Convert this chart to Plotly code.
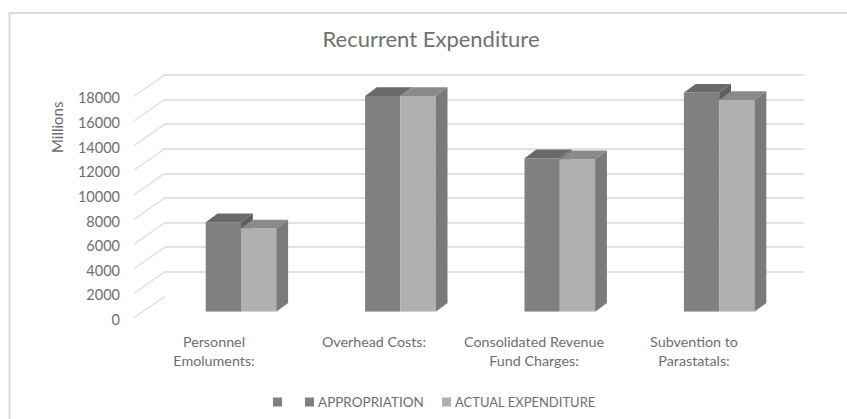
import plotly.graph_objects as go

categories = ["Personnel<br>Emoluments:", "Overhead Costs:", "Consolidated Revenue<br>Fund Charges:", "Subvention to<br>Parastatals:"]
appropriation = [7260, 17520, 12460, 17790]
actual = [6770, 17520, 12380, 17200]
y_ticks = [0, 2000, 4000, 6000, 8000, 10000, 12000, 14000, 16000, 18000]
series_names = ["APPROPRIATION", "ACTUAL EXPENDITURE"]

W, H = 847, 419
FONT = "Lato"
TXT = "#6e6e6e"
GRID = "#e2e2e2"
PX_PER_UNIT = 24.63 / 2000


def px(x):
    return x / W


def py(y):
    return 1 - y / H


def xdom(x0, x1):
    return [px(x0), px(x1)]


def ydom(bottom_px, top_value):
    return [py(bottom_px), py(bottom_px - top_value * PX_PER_UNIT)]


TOP = 20000
idx = list(range(len(categories)))
BAR_W = 35.3 / 159.4
DX = 11.8 / 159.4
DY = 8.7 / PX_PER_UNIT
WALL_DX = 31 / 160
WALL_DY = 21.7 / PX_PER_UNIT
LABEL_DROP = 2.0 / PX_PER_UNIT  # tick labels sit slightly below the start of each diagonal

fig = go.Figure()

# back wall: supplies the native gridlines
fig.add_trace(go.Scatter(x=idx, y=y_ticks[:4], mode="none", showlegend=False, hoverinfo="skip",
                         xaxis="x", yaxis="y"))

# floor / wall diagonals, drawn from the tick values on the front-plane axis
for t in y_ticks:
    fig.add_trace(go.Scatter(x=[-0.5, -0.5 + WALL_DX], y=[t + LABEL_DROP, t + LABEL_DROP + WALL_DY], mode="lines",
                             line=dict(color=GRID, width=1.5), showlegend=False, hoverinfo="skip",
                             xaxis="x3", yaxis="y3"))

# front faces
fig.add_trace(go.Bar(x=idx, y=appropriation, name=series_names[0], width=BAR_W, offset=-BAR_W,
                     marker=dict(color="#808080", line=dict(width=0)), showlegend=False,
                     xaxis="x2", yaxis="y2"))
fig.add_trace(go.Bar(x=idx, y=actual, name=series_names[1], width=BAR_W, offset=0,
                     marker=dict(color="#b0b0b0", line=dict(width=0)), showlegend=False,
                     xaxis="x2", yaxis="y2"))


def face(xs, ys, color):
    fig.add_trace(go.Scatter(x=xs, y=ys, mode="lines", fill="toself", fillcolor=color,
                             line=dict(width=0, color=color), showlegend=False, hoverinfo="skip",
                             xaxis="x2", yaxis="y2"))


for i, v, a in zip(idx, appropriation, actual):
    l, m, r = i - BAR_W, i, i + BAR_W
    # appropriation: the part of its side that shows above the neighbouring bar, then its top
    if v > a:
        face([m, m + DX, m + DX, m, m], [v, v + DY, a, a, v], "#5e5e5e")
    face([l, l + DX, m + DX, m, l], [v, v + DY, v + DY, v, v], "#6a6a6a")
    # actual: top, then side
    face([m, m + DX, r + DX, r, m], [a, a + DY, a + DY, a, a], "#8a8a8a")
    face([r, r + DX, r + DX, r, r], [0, DY, a + DY, a, 0], "#7a7a7a")

axis_off = dict(showgrid=False, zeroline=False, showline=False, showticklabels=False, ticks="", fixedrange=True)


def swatch(x0, color):
    return dict(type="rect", xref="paper", yref="paper", x0=px(x0), x1=px(x0 + 9), y0=py(406.5), y1=py(397.5),
                fillcolor=color, line=dict(width=0))


fig.update_layout(
    width=W, height=H, margin=dict(l=0, r=0, t=0, b=0, pad=0, autoexpand=False),
    paper_bgcolor="white", plot_bgcolor="rgba(0,0,0,0)",
    showlegend=False, barmode="overlay",
    font=dict(family=FONT, color=TXT, size=13),
    title=dict(text="Recurrent Expenditure", x=px(431), xanchor="center", y=py(39), yanchor="middle",
               font=dict(family=FONT, size=22, color="#707070")),
    xaxis=dict(domain=xdom(164, 804), range=[-0.5, 3.5], anchor="y", **axis_off),
    yaxis=dict(domain=ydom(296.7, TOP), range=[0, TOP], anchor="x", tickvals=y_ticks,
               showgrid=True, gridcolor=GRID, gridwidth=1.5, zeroline=False, showline=False,
               showticklabels=False, ticks="", fixedrange=True),
    xaxis2=dict(domain=xdom(161.3, 798.9), range=[-0.5, 3.5], anchor="y2", **axis_off),
    yaxis2=dict(domain=ydom(311.7, TOP), range=[0, TOP], anchor="x2", **axis_off),
    xaxis3=dict(domain=xdom(134, 774), range=[-0.5, 3.5], anchor="y3", tickvals=idx, ticktext=categories,
                showgrid=False, zeroline=False, showline=False, ticks="", ticklabelstandoff=12,
                tickfont=dict(family=FONT, size=14.3, color=TXT), fixedrange=True),
    yaxis3=dict(domain=ydom(320, TOP + LABEL_DROP), range=[0, TOP + LABEL_DROP], anchor="x3", tickvals=y_ticks,
                tickformat="d", showgrid=False, zeroline=False, showline=False, ticks="", ticklabelstandoff=13,
                tickfont=dict(family=FONT, size=14.5, color=TXT), fixedrange=True),
    shapes=[
        dict(type="path", xref="paper", yref="paper",
             path=f"M {px(9.5)} 0 L {px(9.5)} {py(13)} L 1 {py(13)}",
             line=dict(color="#dcdcdc", width=2)),
        swatch(273, "#808080"),
        swatch(305, "#808080"),
        swatch(442, "#b0b0b0"),
    ],
    annotations=[
        dict(text="Millions", textangle=-90, x=px(57), y=py(128), xref="paper", yref="paper",
             xanchor="center", yanchor="middle",
             showarrow=False, font=dict(family=FONT, size=15, color=TXT)),
        dict(text=series_names[0], x=px(316), y=py(402), xref="paper", yref="paper", xanchor="left", yanchor="middle",
             showarrow=False, font=dict(family=FONT, size=13.5, color=TXT)),
        dict(text=series_names[1], x=px(453), y=py(402), xref="paper", yref="paper", xanchor="left", yanchor="middle",
             showarrow=False, font=dict(family=FONT, size=13, color=TXT)),
    ],
)

fig.write_html("out.html", config={"displayModeBar": False},
               post_script="document.body.style.margin='0';document.documentElement.style.overflow='hidden';")
